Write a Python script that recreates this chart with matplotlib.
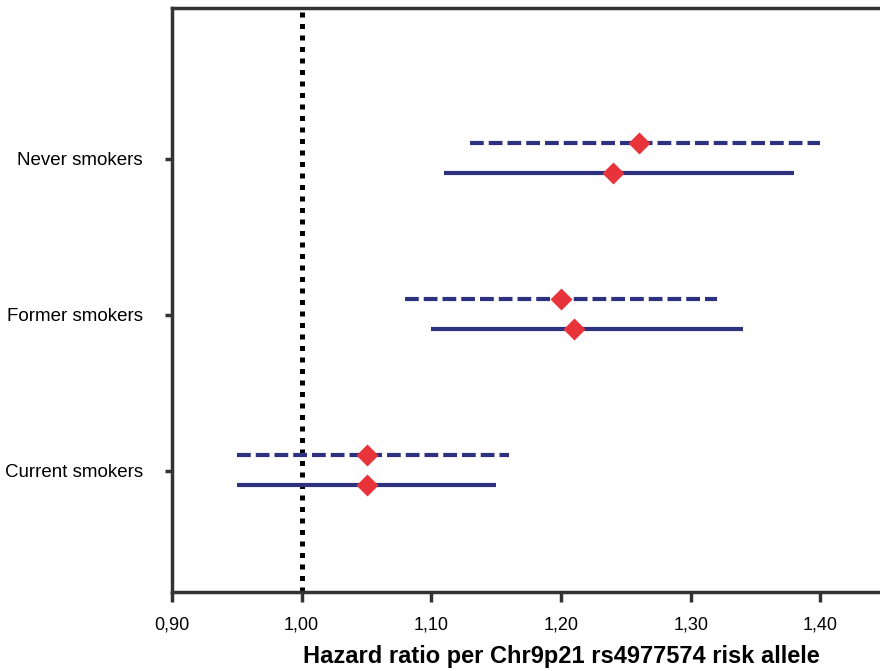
import matplotlib
matplotlib.use("Agg")
import matplotlib.pyplot as plt

categories = ["Never smokers", "Former smokers", "Current smokers"]
cat_pos = [3, 2, 1]
# dashed series
dash_hr = [1.26, 1.20, 1.05]
dash_lo = [1.13, 1.08, 0.95]
dash_hi = [1.40, 1.32, 1.16]
# solid series
solid_hr = [1.24, 1.21, 1.05]
solid_lo = [1.11, 1.10, 0.95]
solid_hi = [1.38, 1.34, 1.15]
xticks = [0.90, 1.00, 1.10, 1.20, 1.30, 1.40]
xticklabels = ["0,90", "1,00", "1,10", "1,20", "1,30", "1,40"]

navy = "#2e3080"
red = "#e8333b"

fig = plt.figure(figsize=(8.8, 6.71), dpi=100)
ax = fig.add_axes([172/880, 1-592/671, 778/880, (592-8)/671])

ax.axvline(1.0, color="black", lw=3.6, linestyle=(0, (1, 1.3)), zorder=1)

for y, lo, hi, hr in zip(cat_pos, dash_lo, dash_hi, dash_hr):
    yy = y + 0.1
    ax.plot([lo, hi], [yy, yy], color=navy, lw=3.0, linestyle=(0, (3.3, 1.2)), zorder=2,
            solid_capstyle="butt", dash_capstyle="butt")
    ax.plot([hr], [yy], marker="D", ms=11, color=red, mec="none", zorder=3)

for y, lo, hi, hr in zip(cat_pos, solid_lo, solid_hi, solid_hr):
    yy = y - 0.09
    ax.plot([lo, hi], [yy, yy], color=navy, lw=3.0, zorder=2, solid_capstyle="butt")
    ax.plot([hr], [yy], marker="D", ms=11, color=red, mec="none", zorder=3)

ax.set_xlim(0.90, 1.50)
ax.set_ylim(0.224, 3.968)
ax.set_xticks(xticks)
ax.set_xticklabels(xticklabels, fontsize=13, family="Liberation Sans")
ax.set_yticks(cat_pos)
ax.set_yticklabels(categories, fontsize=13.5, family="Liberation Sans")
ax.tick_params(axis="x", length=7, width=2.5, color="#333333", pad=11)
ax.tick_params(axis="y", length=5, width=2.5, color="#333333", pad=16)
ax.spines["right"].set_visible(False)
for s in ["left", "bottom", "top"]:
    ax.spines[s].set_linewidth(2.5)
    ax.spines[s].set_color("#333333")
ax.set_xlabel("Hazard ratio per Chr9p21 rs4977574 risk allele", fontsize=17,
              fontweight="bold", family="Liberation Sans", labelpad=8)

fig.savefig("out.png", dpi=100)
